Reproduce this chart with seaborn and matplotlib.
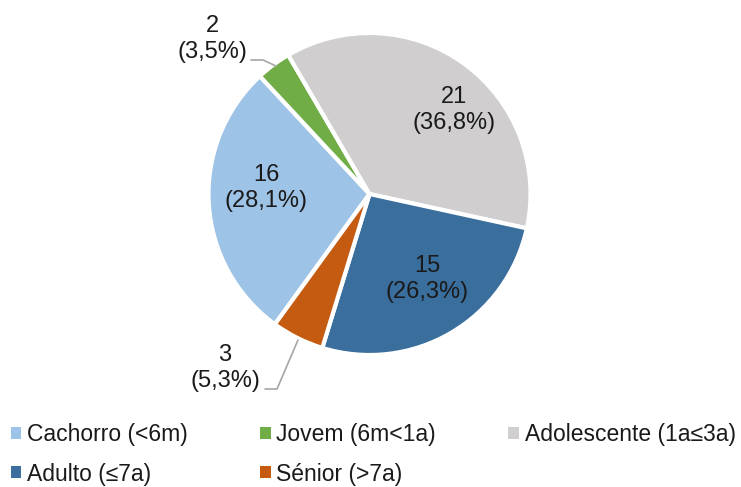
import matplotlib
matplotlib.use("Agg")
import matplotlib.pyplot as plt
import seaborn as sns
from matplotlib.patches import Patch

sns.set_theme(style="white")
plt.rcParams['font.family'] = ['Liberation Sans', 'DejaVu Sans']

categories = ["Cachorro (<6m)", "Jovem (6m<1a)", "Adolescente (1a≤3a)", "Adulto (≤7a)", "Sénior (>7a)"]
counts = [16, 2, 21, 15, 3]
percent_labels = ["28,1%", "3,5%", "36,8%", "26,3%", "5,3%"]
colors = ["#9DC3E6", "#70AD47", "#D0CECE", "#3A6E9D", "#C55A11"]

W, H = 741, 487
fig = plt.figure(figsize=(W / 100, H / 100), dpi=100)
ax = fig.add_axes([0, 0, 1, 1])

cx, cy, r = 369.5, H - 194, 161
wedges, _ = ax.pie(counts, colors=colors, startangle=-126, counterclock=False,
                   center=(cx, cy), radius=r,
                   wedgeprops=dict(edgecolor="white", linewidth=3))
ax.set_xlim(0, W)
ax.set_ylim(0, H)
ax.set_aspect("equal")
ax.axis("off")

fs = 17
# label positions (image pixel coords) for each slice
label_pos = [(266, 188), (212, 39), (454, 110), (427, 279), (225, 368)]
for (x, y), n, p in zip(label_pos, counts, percent_labels):
    ax.text(x, H - y, f"{n}\n({p})", ha="center", va="center", fontsize=fs,
            color="#1a1a1a", linespacing=1.2)

# leader lines for small slices
ax.plot([251, 263, 276], [H - 60, H - 60, H - 66], color="#A6A6A6", lw=1.2)
ax.plot([265, 277, 298], [H - 389, H - 389, H - 340], color="#A6A6A6", lw=1.2)

# legend filled row-wise like the reference (matplotlib fills column-wise)
order = [0, 3, 1, 4, 2]
handles = [Patch(facecolor=colors[i], edgecolor="none") for i in order]
labels = [categories[i] for i in order]
fig.legend(handles, labels, loc="upper left",
           bbox_to_anchor=(11 / W, 1 - 423 / H), ncol=3, frameon=False,
           fontsize=16.5, handlelength=0.45, handleheight=0.45,
           handletextpad=0.26, columnspacing=3.15, borderpad=0,
           borderaxespad=0, labelspacing=0.72, labelcolor="#1a1a1a")

fig.savefig("out.png", dpi=100)
